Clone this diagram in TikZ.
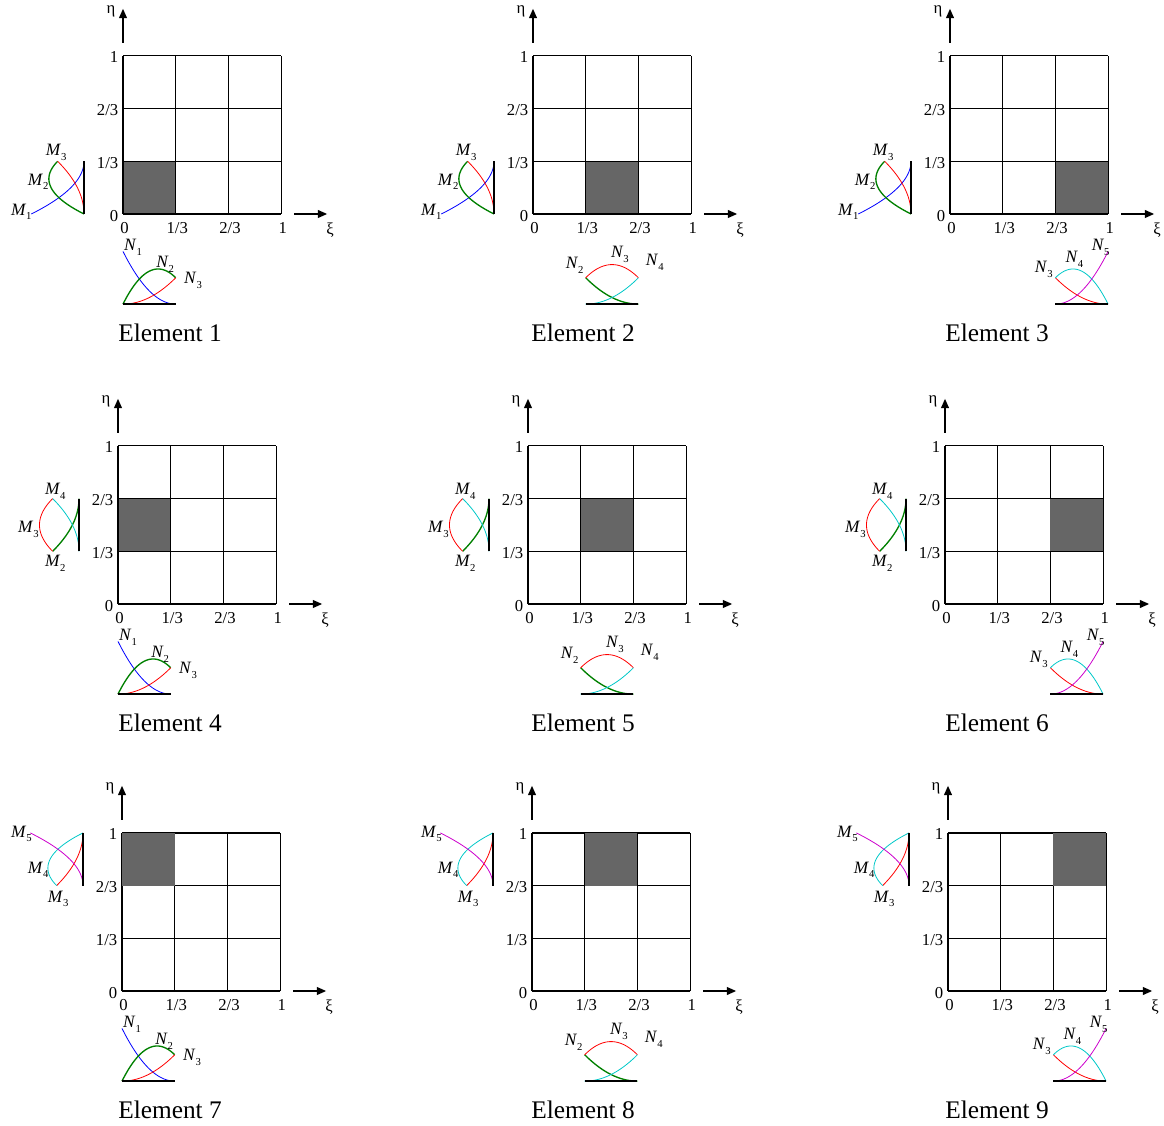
\documentclass[tikz,border=0pt]{standalone}
\usepackage{fontspec}
\setmainfont{Liberation Serif}
\usetikzlibrary{arrows.meta}
\definecolor{bblue}{RGB}{0,0,255}
\definecolor{bgreen}{RGB}{0,128,0}
\definecolor{bred}{RGB}{255,0,0}
\definecolor{bcyan}{RGB}{0,200,200}
\definecolor{bmagenta}{RGB}{204,0,204}
\definecolor{cellgray}{RGB}{102,102,102}

% one quadratic piece over a unit cell: style, cell, value
\newcommand{\Nplot}[3]{\draw[#1] plot[domain=0:1,samples=31] ({#2+\x},{-1.71+#3});}
\newcommand{\Mplot}[3]{\draw[#1] plot[domain=0:1,samples=31] ({-0.74-(#3)},{#2+\x});}
\newcommand{\bsub}[2]{\textit{#1}\raisebox{-3.5pt}{\fontsize{8}{8}\selectfont #2}}

\begin{document}
\begin{tikzpicture}[x=0.75pt,y=0.75pt,
    gridline/.style={line width=0.9pt},
    axis/.style={-{Triangle[length=7pt,width=6pt]}, line width=0.9pt},
    tick/.style={font=\fontsize{12.5}{14}\selectfont, inner sep=1pt},
    elabel/.style={font=\fontsize{19}{22}\selectfont},
    blab/.style={font=\fontsize{13}{14}\selectfont, inner sep=0pt},
    fbase/.style={line width=1.1pt},
    cblue/.style={draw=bblue, line width=0.6pt},
    cgreen/.style={draw=bgreen, line width=1pt},
    cred/.style={draw=bred, line width=0.6pt},
    ccyan/.style={draw=bcyan, line width=0.6pt},
    cmagenta/.style={draw=bmagenta, line width=0.6pt}
  ]
  \useasboundingbox (0,0) rectangle (1164,-1126);

  \foreach \k/\ox/\oy/\c/\r/\f/\lx in {1/123/214/0/0/0/170, 2/533/214/1/0/0/583, 3/950/214/2/0/0/997,
      4/118/604/0/1/0/170, 5/528/604/1/1/1/583, 6/945/604/2/1/1/997,
      7/122/991/0/2/1/170, 8/532/991/1/2/1/583, 9/948/991/2/2/1/997}{
    \begin{scope}[shift={(\ox,-\oy)},scale=52.7]
      % mesh and active element
      \ifnum\f=0 \fill[cellgray] (\c,\r) rectangle ++(1,1); \fi
      \foreach \i in {0,...,3}{
        \draw[gridline] (\i,0) -- (\i,3);
        \draw[gridline] (0,\i) -- (3,\i);}
      \ifnum\f=1 \fill[cellgray] (\c,\r) rectangle ++(1,1); \fi

      % axes
      \coordinate (e\k) at (0,3.26);
      \coordinate (et\k) at (0,3.91);
      \draw[axis] (e\k) -- (et\k);
      \node[tick] (eta\k) at (-0.23,3.84) {η};
      \coordinate (x\k) at (3.26,0);
      \coordinate (xt\k) at (3.89,0);
      \draw[axis] (x\k) -- (xt\k);
      \node[tick] (xi\k) at (3.93,-0.30) {ξ};

      \foreach \i/\t in {0/0,1/{1/3},2/{2/3},3/1}{
        \node[tick] (tx\k-\i) at (\i+0.03,-0.27) {\t};
        \node[tick,anchor=east] (ty\k-\i) at (-0.06,\i-0.03) {\t};}

      % basis functions in xi
      \ifcase\c
        \Nplot{cblue}{0}{(1-\x)^2}
        \Nplot{cgreen}{0}{2*\x-1.5*\x^2}
        \Nplot{cred}{0}{0.5*\x^2}
        \node[blab] (n\k-a) at (0.19,-0.63) {\bsub{N}{1}};
        \node[blab] (n\k-b) at (0.80,-0.95) {\bsub{N}{2}};
        \node[blab] (n\k-c) at (1.33,-1.26) {\bsub{N}{3}};
      \or
        \Nplot{cgreen}{1}{0.5*(1-\x)^2}
        \Nplot{cred}{1}{0.5+\x-\x^2}
        \Nplot{ccyan}{1}{0.5*\x^2}
        \node[blab] (n\k-a) at (0.79,-0.97) {\bsub{N}{2}};
        \node[blab] (n\k-b) at (1.65,-0.76) {\bsub{N}{3}};
        \node[blab] (n\k-c) at (2.31,-0.92) {\bsub{N}{4}};
      \or
        \Nplot{cred}{2}{0.5*(1-\x)^2}
        \Nplot{ccyan}{2}{2*(1-\x)-1.5*(1-\x)^2}
        \Nplot{cmagenta}{2}{\x^2}
        \node[blab] (n\k-a) at (1.78,-1.05) {\bsub{N}{3}};
        \node[blab] (n\k-b) at (2.36,-0.86) {\bsub{N}{4}};
        \node[blab] (n\k-c) at (2.86,-0.63) {\bsub{N}{5}};
      \fi
      \draw[fbase] (\c,-1.71) -- ++(1,0);

      % basis functions in eta
      \ifcase\r
        \Mplot{cblue}{0}{(1-\x)^2}
        \Mplot{cgreen}{0}{2*\x-1.5*\x^2}
        \Mplot{cred}{0}{0.5*\x^2}
        \node[blab] (m\k-a) at (-1.93,0.04) {\bsub{M}{1}};
        \node[blab] (m\k-b) at (-1.61,0.61) {\bsub{M}{2}};
        \node[blab] (m\k-c) at (-1.27,1.17) {\bsub{M}{3}};
      \or
        \Mplot{cgreen}{1}{0.5*(1-\x)^2}
        \Mplot{cred}{1}{0.5+\x-\x^2}
        \Mplot{ccyan}{1}{0.5*\x^2}
        \node[blab] (m\k-a) at (-1.19,0.77) {\bsub{M}{2}};
        \node[blab] (m\k-b) at (-1.70,1.42) {\bsub{M}{3}};
        \node[blab] (m\k-c) at (-1.19,2.14) {\bsub{M}{4}};
      \or
        \Mplot{cred}{2}{0.5*(1-\x)^2}
        \Mplot{ccyan}{2}{2*(1-\x)-1.5*(1-\x)^2}
        \Mplot{cmagenta}{2}{\x^2}
        \node[blab] (m\k-a) at (-1.21,1.75) {\bsub{M}{3}};
        \node[blab] (m\k-b) at (-1.59,2.30) {\bsub{M}{4}};
        \node[blab] (m\k-c) at (-1.91,2.98) {\bsub{M}{5}};
      \fi
      \draw[fbase] (-0.74,\r) -- ++(0,1);

      \node[elabel] (el\k) at ({(\lx-\ox)/52.7},-2.25) {Element \k};
    \end{scope}}
\end{tikzpicture}
\end{document}
